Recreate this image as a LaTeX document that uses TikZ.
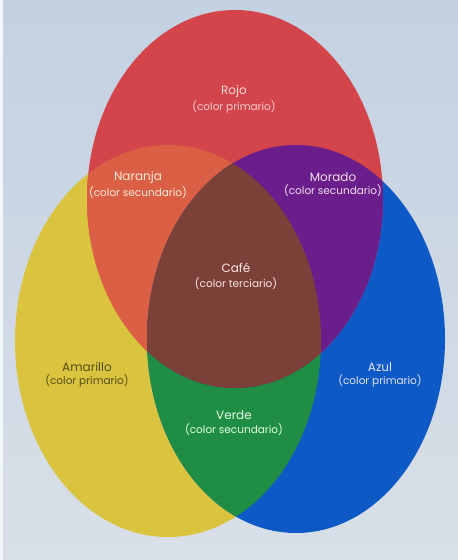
\documentclass[tikz,border=0pt]{standalone}
\usepackage{fontspec}
\setmainfont{Poppins}
\usepackage{tikz}
\usetikzlibrary{positioning}

\definecolor{fondoA}{HTML}{C3D1E2}
\definecolor{fondoB}{HTML}{D9DFE7}
\definecolor{rojo}{HTML}{D3444B}
\definecolor{amarillo}{HTML}{DAC33E}
\definecolor{azul}{HTML}{0D5AC6}
\definecolor{naranja}{HTML}{DA5F45}
\definecolor{morado}{HTML}{6A1E8C}
\definecolor{cafe}{HTML}{7B4139}
\definecolor{verde}{HTML}{1F8E44}

\begin{document}
\begin{tikzpicture}[x=1pt, y=-1pt,
  lbl/.style={font=\fontsize{12}{14}\selectfont, inner sep=0pt, align=center},
  sub/.style={font=\fontsize{10.5}{12}\selectfont, inner sep=0pt}]
% --- background ---
\useasboundingbox (0,0) rectangle (458,560);
\shade[top color=fondoA, bottom color=fondoB] (0,0) rectangle (458,560);
\fill[white!80!fondoA] (0,0) rectangle (3,560);

% --- primary circles ---
\fill[amarillo] (168,341) ellipse [x radius=153pt, y radius=196pt];
\fill[azul] (296,339) ellipse [x radius=149pt, y radius=194pt];
\fill[rojo] (235,199) ellipse [x radius=148pt, y radius=189pt];

% --- overlaps ---
\begin{scope}
\clip (168,341) ellipse [x radius=153pt, y radius=196pt];
\fill[naranja] (235,199) ellipse [x radius=148pt, y radius=189pt];
\fill[verde] (296,339) ellipse [x radius=149pt, y radius=194pt];
\end{scope}
\begin{scope}
\clip (296,339) ellipse [x radius=149pt, y radius=194pt];
\fill[morado] (235,199) ellipse [x radius=148pt, y radius=189pt];
\end{scope}
\begin{scope}
\clip (168,341) ellipse [x radius=153pt, y radius=196pt];
\clip (296,339) ellipse [x radius=149pt, y radius=194pt];
\fill[cafe] (235,199) ellipse [x radius=148pt, y radius=189pt];
\end{scope}

% --- labels ---
\node[lbl, text=red!15!white] (rojoA) at (234,91) {Rojo};
\node[sub, text=red!20!white, below=3pt of rojoA] (rojoB) {(color primario)};
\node[lbl, text=orange!15!white] (naranjaA) at (138,177) {Naranja};
\node[sub, text=orange!15!white, below=3pt of naranjaA] (naranjaB) {(color secundario)};
\node[lbl, text=violet!12!white] (moradoA) at (333,177) {Morado};
\node[sub, text=violet!12!white, below=3pt of moradoA] (moradoB) {(color secundario)};
\node[lbl, text=red!10!white] (cafeA) at (236,268) {Café};
\node[sub, text=red!10!white, below=5pt of cafeA] (cafeB) {(color terciario)};
\node[lbl, text=amarillo!40!black] (amarilloA) at (87,367) {Amarillo};
\node[sub, text=amarillo!40!black, below=3pt of amarilloA] (amarilloB) {(color primario)};
\node[lbl, text=blue!10!white] (azulA) at (380,367) {Azul};
\node[sub, text=blue!10!white, below=3pt of azulA] (azulB) {(color primario)};
\node[lbl, text=green!10!white] (verdeA) at (234,415) {Verde};
\node[sub, text=green!10!white, below=4pt of verdeA] (verdeB) {(color secundario)};
\end{tikzpicture}
\end{document}
